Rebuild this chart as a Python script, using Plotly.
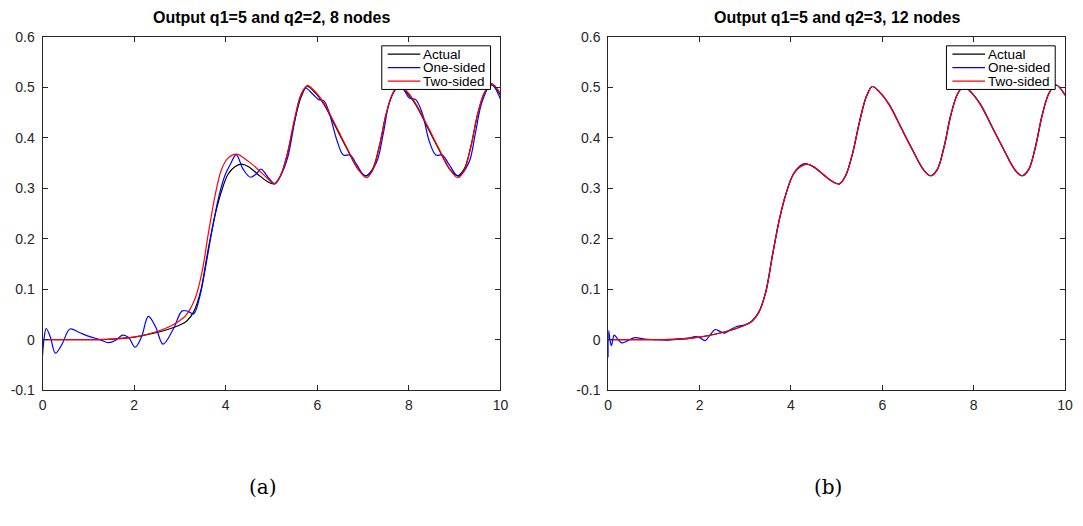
import plotly.graph_objects as go

# ---------------- data ----------------
# Actual output (same in both panels)
t_actual = [0, 0.5, 1.0, 1.5, 2.0, 2.5, 2.8, 3.0, 3.15, 3.3, 3.45, 3.6, 3.75, 3.9,
            4.05, 4.2, 4.34, 4.5, 4.7, 4.9, 5.06, 5.2, 5.35, 5.5, 5.65, 5.78, 5.95,
            6.15, 6.4, 6.65, 6.9, 7.06, 7.2, 7.35, 7.5, 7.65, 7.78, 7.95, 8.15, 8.4,
            8.65, 8.9, 9.06, 9.2, 9.35, 9.5, 9.65, 9.8, 10.0]
y_actual = [0.0, 0.0, 0.0, 0.001, 0.005, 0.014, 0.022, 0.029, 0.037, 0.055, 0.095,
            0.17, 0.24, 0.292, 0.328, 0.343, 0.348, 0.343, 0.328, 0.314, 0.309,
            0.326, 0.37, 0.432, 0.482, 0.502, 0.49, 0.466, 0.422, 0.378, 0.337,
            0.325, 0.337, 0.382, 0.446, 0.488, 0.502, 0.49, 0.466, 0.422, 0.378,
            0.337, 0.325, 0.337, 0.382, 0.446, 0.489, 0.505, 0.485]

# Panel (a): one-sided, 8 nodes
t_one_a = [0, 0.03, 0.08, 0.17, 0.28, 0.42, 0.6, 0.8, 1.03, 1.25, 1.44, 1.6, 1.75,
           1.88, 2.02, 2.16, 2.31, 2.47, 2.63, 2.85, 3.05, 3.18, 3.3, 3.44, 3.55,
           3.7, 3.84, 3.98, 4.12, 4.23, 4.38, 4.54, 4.66, 4.77, 4.95, 5.08, 5.2,
           5.35, 5.5, 5.62, 5.74, 5.9, 6.03, 6.14, 6.25, 6.43, 6.57, 6.72, 6.86,
           7.06, 7.29, 7.44, 7.58, 7.75, 7.87, 8.01, 8.15, 8.3, 8.44, 8.59, 8.73,
           8.88, 9.08, 9.31, 9.45, 9.6, 9.8, 10.0]
y_one_a = [-0.031, 0.0, 0.022, 0.005, -0.027, -0.01, 0.021, 0.014, 0.006, 0.0,
           -0.006, -0.001, 0.009, 0.004, -0.015, 0.005, 0.046, 0.025, -0.009,
           0.02, 0.057, 0.056, 0.051, 0.088, 0.139, 0.216, 0.28, 0.325, 0.351,
           0.367, 0.338, 0.322, 0.328, 0.338, 0.319, 0.309, 0.325, 0.36, 0.43,
           0.48, 0.499, 0.487, 0.476, 0.474, 0.453, 0.395, 0.366, 0.366, 0.347,
           0.324, 0.351, 0.408, 0.472, 0.5, 0.498, 0.479, 0.476, 0.447, 0.395,
           0.366, 0.366, 0.347, 0.324, 0.351, 0.408, 0.472, 0.506, 0.477]

# Panel (a): two-sided, 8 nodes
t_two_a = [0, 0.5, 1.0, 1.5, 2.0, 2.5, 2.8, 3.0, 3.12, 3.33, 3.48, 3.62, 3.77, 3.91,
           4.05, 4.23, 4.49, 4.7, 4.92, 5.06, 5.2, 5.35, 5.5, 5.65, 5.78, 5.95, 6.15,
           6.4, 6.65, 6.9, 7.07, 7.2, 7.35, 7.5, 7.65, 7.78, 7.95, 8.15, 8.4, 8.65,
           8.9, 9.07, 9.2, 9.35, 9.5, 9.65, 9.8, 10.0]
y_two_a = [0.0, 0.0, 0.0, 0.001, 0.005, 0.016, 0.027, 0.038, 0.047, 0.081, 0.133,
           0.21, 0.287, 0.338, 0.36, 0.368, 0.354, 0.338, 0.319, 0.309, 0.326, 0.37,
           0.437, 0.486, 0.504, 0.492, 0.468, 0.425, 0.38, 0.337, 0.321, 0.334,
           0.38, 0.446, 0.489, 0.505, 0.493, 0.468, 0.425, 0.38, 0.337, 0.321,
           0.334, 0.38, 0.447, 0.49, 0.508, 0.488]

# Panel (b): one-sided, 12 nodes
t_one_b = [0, 0.01, 0.04, 0.07, 0.13, 0.2, 0.3, 0.45, 0.58, 0.8, 1.0, 1.29, 1.6,
           1.75, 1.9, 2.0, 2.12, 2.23, 2.34, 2.45, 2.55, 2.68, 2.81, 3.02, 3.15,
           3.3, 3.45, 3.6, 3.75, 3.9, 4.05, 4.2, 4.31, 4.5, 4.7, 4.9, 5.06, 5.2,
           5.35, 5.5, 5.65, 5.78, 5.95, 6.15, 6.4, 6.65, 6.9, 7.06, 7.2, 7.35, 7.5,
           7.65, 7.78, 7.95, 8.15, 8.4, 8.65, 8.9, 9.06, 9.2, 9.35, 9.5, 9.65, 9.8,
           10.0]
y_one_b = [-0.035, 0.018, -0.002, -0.012, 0.009, 0.002, -0.0065, -0.001, 0.004,
           0.001, 0.0, -0.001, 0.001, 0.002, 0.006, 0.004, -0.002, 0.009, 0.02,
           0.016, 0.013, 0.02, 0.026, 0.03, 0.037, 0.055, 0.095, 0.17, 0.24,
           0.292, 0.328, 0.345, 0.349, 0.342, 0.328, 0.314, 0.309, 0.326, 0.37,
           0.432, 0.482, 0.502, 0.49, 0.466, 0.422, 0.378, 0.337, 0.325, 0.337,
           0.382, 0.446, 0.488, 0.502, 0.49, 0.466, 0.422, 0.378, 0.337, 0.325,
           0.337, 0.382, 0.446, 0.489, 0.505, 0.485]

# Panel (b): two-sided, 12 nodes (indistinguishable from actual)
t_two_b = list(t_actual)
y_two_b = list(y_actual)

x_ticks = [0, 2, 4, 6, 8, 10]
y_ticks = [-0.1, 0, 0.1, 0.2, 0.3, 0.4, 0.5, 0.6]
y_tick_text = ["-0.1", "0", "0.1", "0.2", "0.3", "0.4", "0.5", "0.6"]
titles = ["Output q1=5 and q2=2, 8 nodes", "Output q1=5 and q2=3, 12 nodes"]
captions = ["(a)", "(b)"]
names = ["Actual", "One-sided", "Two-sided"]
colors = ["#000000", "#0000ff", "#ff0000"]

# ---------------- figure ----------------
W, H = 1083, 526
fig = go.Figure()

panels = [
    ("x", "y", [(t_actual, y_actual), (t_one_a, y_one_a), (t_two_a, y_two_a)]),
    ("x2", "y2", [(t_actual, y_actual), (t_one_b, y_one_b), (t_two_b, y_two_b)]),
]
for xa, ya, series in panels:
    for (tx, ty), nm, col in zip(series, names, colors):
        fig.add_trace(go.Scatter(
            x=tx, y=ty, mode="lines", name=nm, xaxis=xa, yaxis=ya, showlegend=False,
            line=dict(color=col, width=1.2, shape="spline", smoothing=1.0),
            hoverinfo="skip"))

FONT = "Liberation Sans, Arial, Helvetica, sans-serif"
axis_font = dict(family=FONT, size=14, color="#262626")
common_x = dict(range=[0, 10], tickvals=x_ticks, ticks="inside", ticklen=5, tickcolor="#262626",
                showline=True, linecolor="#262626", linewidth=1, mirror="ticks",
                showgrid=False, zeroline=False, tickfont=axis_font, ticklabelstandoff=2)
common_y = dict(range=[-0.1, 0.6], tickvals=y_ticks, ticktext=y_tick_text, ticks="inside",
                ticklen=5, tickcolor="#262626", showline=True, linecolor="#262626",
                linewidth=1, mirror="ticks", showgrid=False, zeroline=False,
                tickfont=axis_font, ticklabelstandoff=4)

dx1 = [39 / W, 502 / W]
dx2 = [611 / W, 1073 / W]
dy = [(H - 394) / H, (H - 30) / H]

fig.update_layout(
    width=W, height=H, autosize=False,
    margin=dict(l=0, r=0, t=0, b=0),
    paper_bgcolor="white", plot_bgcolor="white",
    xaxis=dict(domain=dx1, anchor="y", **common_x),
    yaxis=dict(domain=dy, anchor="x", **common_y),
    xaxis2=dict(domain=dx2, anchor="y2", **common_x),
    yaxis2=dict(domain=dy, anchor="x2", **common_y),
    showlegend=False,
)

def px(xp):
    return xp / W

def py(yp):
    return (H - yp) / H

# legend boxes (drawn inside each panel, top right)
shapes = []
annots = []
rows = (47.5, 61.5, 75.5)
for axis_right in (502, 1073):
    bx0, bx1 = axis_right - 120, axis_right - 10
    shapes.append(dict(type="rect", xref="paper", yref="paper",
                       x0=px(bx0), x1=px(bx1), y0=py(84), y1=py(39),
                       line=dict(color="#000000", width=1), fillcolor="white", layer="above"))
    for row_y, nm, col in zip(rows, names, colors):
        shapes.append(dict(type="line", xref="paper", yref="paper",
                           x0=px(bx0 + 6), x1=px(bx0 + 39), y0=py(row_y), y1=py(row_y),
                           line=dict(color=col, width=1.2), layer="above"))
        annots.append(dict(text=nm, xref="paper", yref="paper", x=px(bx0 + 41), y=py(row_y),
                           xanchor="left", yanchor="middle", showarrow=False, borderpad=0,
                           font=dict(family=FONT, size=13.5, color="#000000")))
fig.update_layout(shapes=shapes)
for a in annots:
    fig.add_annotation(**a)

for i, (ttl, cap) in enumerate(zip(titles, captions)):
    xr = "x domain" if i == 0 else "x2 domain"
    yr = "y domain" if i == 0 else "y2 domain"
    fig.add_annotation(text="<b>" + ttl + "</b>", xref=xr, yref=yr, x=0.5, y=1,
                       xanchor="center", yanchor="bottom", yshift=9, showarrow=False,
                       font=dict(family=FONT, size=16, color="#000000"))
    fig.add_annotation(text=cap, xref=xr, yref="paper", x=0.5, y=py(494),
                       xanchor="center", yanchor="middle", xshift=-9, showarrow=False,
                       font=dict(family="DejaVu Serif, Liberation Serif, serif", size=20,
                                 color="#000000"))

fig.write_html("out.html")
